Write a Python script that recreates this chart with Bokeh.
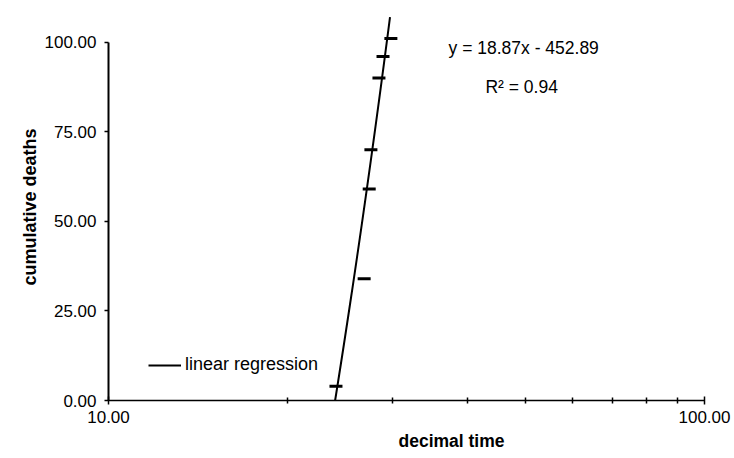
import numpy as np
from bokeh.plotting import figure
from bokeh.models import (Range1d, FixedTicker, PrintfTickFormatter, Label,
                          Legend, LegendItem, Title)
from bokeh.embed import file_html
from bokeh.resources import INLINE

# observations: decimal time (log axis) against cumulative deaths
decimal_time = [24.08, 26.85, 27.38, 27.56, 28.43, 28.88, 29.77]
cumulative_deaths = [4, 34, 59, 70, 90, 96, 101]

# fitted regression y = slope * x + intercept
slope = 18.87
intercept = -452.89
r_squared = 0.94
fit_y_span = [0, 107]

y_ticks = [0, 25, 50, 75, 100]
x_major_ticks = [10, 100]
x_minor_ticks = [20, 30, 40, 50, 60, 70, 80, 90]

FONT = "Liberation Sans"

p = figure(width=734, height=458, x_axis_type="log",
           x_range=Range1d(10, 100), y_range=Range1d(0, 108),
           output_backend="svg", toolbar_location=None,
           min_border_left=108, min_border_right=30,
           min_border_top=13, min_border_bottom=58)
p.outline_line_color = None
p.xgrid.visible = False
p.ygrid.visible = False
p.background_fill_color = "white"
p.border_fill_color = "white"

# y axis: 0..100 with two-decimal labels
ya = p.yaxis[0]
ya.bounds = (0, 100)
ya.ticker = FixedTicker(ticks=y_ticks)
ya.formatter = PrintfTickFormatter(format="%.2f")
ya.major_tick_in = 0
ya.major_tick_out = 4
ya.minor_tick_in = 0
ya.minor_tick_out = 0
ya.axis_line_width = 2
ya.axis_line_color = "black"
ya.major_tick_line_color = "black"
ya.major_tick_line_width = 1.5
ya.major_label_text_font = FONT
ya.major_label_text_font_size = "17px"
ya.major_label_text_color = "black"
ya.major_label_standoff = 8
ya.axis_label = "cumulative deaths"
ya.axis_label_text_font = FONT
ya.axis_label_text_font_style = "bold"
ya.axis_label_text_font_size = "18px"
ya.axis_label_text_color = "black"
ya.axis_label_standoff = 2

# x axis: log decade 10..100 with minor ticks crossing the line
xa = p.xaxis[0]
xa.ticker = FixedTicker(ticks=x_major_ticks, minor_ticks=x_minor_ticks)
xa.formatter = PrintfTickFormatter(format="%.2f")
xa.major_tick_in = 4
xa.major_tick_out = 4
xa.minor_tick_in = 3
xa.minor_tick_out = 3
xa.axis_line_width = 1.5
xa.axis_line_color = "black"
xa.major_tick_line_color = "black"
xa.minor_tick_line_color = "black"
xa.major_tick_line_width = 1.5
xa.minor_tick_line_width = 1.5
xa.major_label_text_font = FONT
xa.major_label_text_font_size = "17px"
xa.major_label_text_color = "black"
xa.major_label_standoff = 6

# x axis title below the tick labels, set right of the axis centre
p.add_layout(Title(text="decimal time", align="left", offset=290,
                   standoff=7, text_font=FONT, text_font_style="bold",
                   text_font_size="17.5px", text_color="black"),
             "below")

# regression line traced from the fitted equation
fit_y = np.linspace(fit_y_span[0], fit_y_span[1], 60)
fit_x = (fit_y - intercept) / slope
fit_line = p.line(fit_x, fit_y, line_color="black", line_width=2)

# observed points as short horizontal bars
p.scatter(decimal_time, cumulative_deaths, marker="dash", size=13,
          line_color="black", line_width=3)

legend = Legend(items=[LegendItem(label="linear regression",
                                  renderers=[fit_line])],
                location=(40, 25), padding=0, margin=0, spacing=0,
                glyph_width=33, label_standoff=4,
                border_line_color=None, background_fill_alpha=0,
                label_text_font=FONT, label_text_font_size="18px",
                label_text_color="black")
p.add_layout(legend)

eq_text = f"y = {slope:.2f}x - {abs(intercept):.2f}"
r2_text = f"R\u00b2 = {r_squared:.2f}"
p.add_layout(Label(x=37.2, y=98.5, text=eq_text, text_baseline="middle",
                   text_font=FONT, text_font_size="17.5px",
                   text_color="black"))
p.add_layout(Label(x=42.9, y=87.5, text=r2_text, text_baseline="middle",
                   text_font=FONT, text_font_size="17.5px",
                   text_color="black"))

open("out.html", "w").write(file_html(p, INLINE))
